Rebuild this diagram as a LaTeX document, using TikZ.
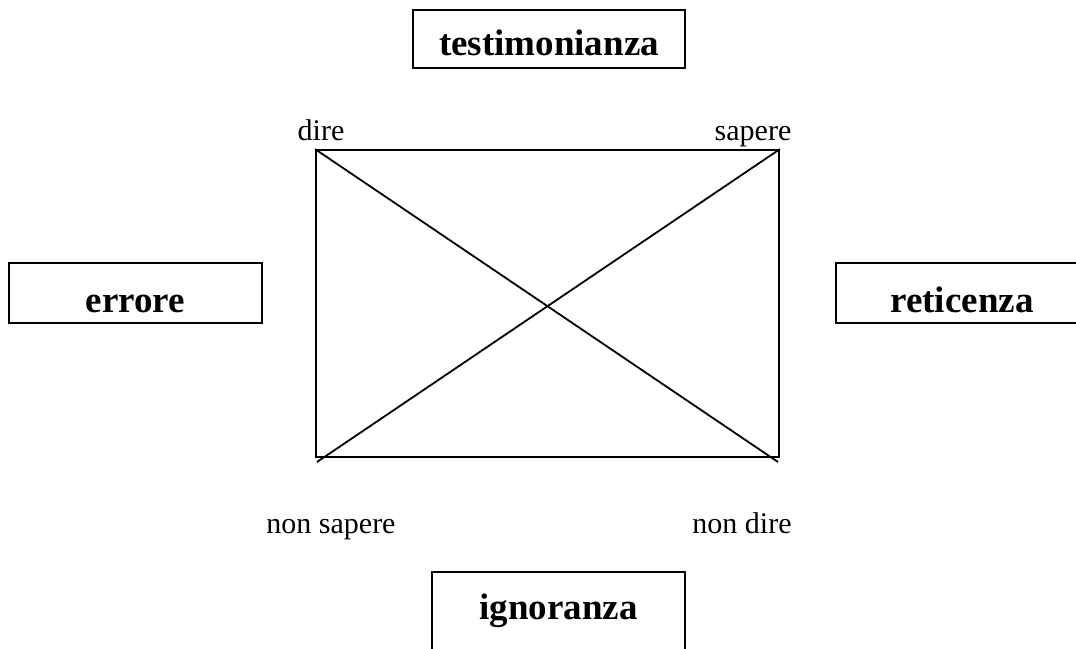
\documentclass[tikz,border=0pt]{standalone}
\usepackage{fontspec}
\setmainfont{Liberation Serif}
\usepackage{tikz}
\usetikzlibrary{positioning}

\begin{document}
\begin{tikzpicture}[
            x=1pt, y=-1pt,
            line width=1.8pt,
            term/.style={rectangle, draw, inner sep=0pt, font=\bfseries\fontsize{37}{37}\selectfont},
            corner/.style={inner sep=0pt, anchor=base, font=\fontsize{30}{30}\selectfont}
        ]
            \useasboundingbox (0,0) rectangle (1076,648);
            \clip (0,0) rectangle (1076,648);
            % the four terms
            \node[term, minimum width=272pt, text height=45pt, text depth=13pt] (testim) at (549,39) {testimonianza};
            \node[term, minimum width=253pt, text height=49pt, text depth=11pt] (errore) at (135.5,293) {errore};
            \node[term, minimum width=252pt, text height=49pt, text depth=11pt] (retic) at (962,293) {reticenza};
            \node[term, minimum width=253pt, text height=47pt, text depth=43pt] (ignor) at (558.5,617) {ignoranza};
            % the square
            \node[rectangle, draw, inner sep=0pt, minimum width=463pt, minimum height=307pt] (sq) at (547.5,303.5) {};
            \coordinate (nsfoot) at (317,462);
            \coordinate (ndfoot) at (778,462);
            \draw (sq.north west) -- (ndfoot);
            \draw (sq.north east) -- (nsfoot);
            % corner labels
            \node[corner] (dire) at (321,140) {dire};
            \node[corner] (sapere) at (753,140) {sapere};
            \node[corner] (nonsapere) at (331,533) {non sapere};
            \node[corner] (nondire) at (742,533) {non dire};
        \end{tikzpicture}
\end{document}
